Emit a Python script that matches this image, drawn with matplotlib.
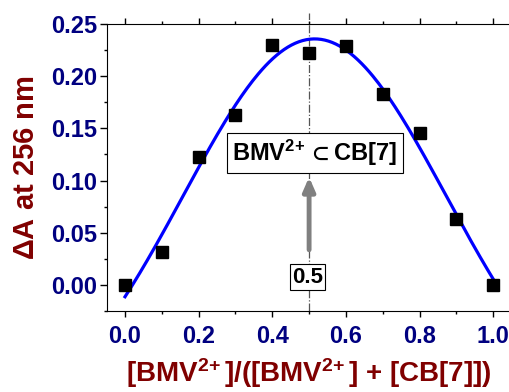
import numpy as np
import matplotlib
matplotlib.use("Agg")
import matplotlib.pyplot as plt

plt.rcParams['font.family'] = ['Liberation Sans', 'DejaVu Sans']
plt.rcParams['font.weight'] = 'bold'
plt.rcParams['mathtext.fontset'] = 'custom'
plt.rcParams['mathtext.rm'] = 'Liberation Sans:bold'
plt.rcParams['mathtext.bf'] = 'Liberation Sans:bold'
plt.rcParams['mathtext.it'] = 'Liberation Sans:bold'
plt.rcParams['mathtext.fallback'] = 'stixsans'

# Job plot data
frac = [0.0, 0.1, 0.2, 0.3, 0.4, 0.5, 0.6, 0.7, 0.8, 0.9, 1.0]
dA = [0.000, 0.032, 0.123, 0.163, 0.230, 0.222, 0.229, 0.183, 0.146, 0.063, 0.000]

navy = '#000080'
dred = '#800000'


def gauss(p, x):
    y0, a, xc, w = p
    return y0 + a * np.exp(-2 * (x - xc) ** 2 / w ** 2)


def fit_gauss(x, y, p):
    # plain Gauss-Newton, numeric jacobian
    x = np.asarray(x); y = np.asarray(y); p = np.array(p, float)
    for _ in range(200):
        r = y - gauss(p, x)
        J = np.empty((len(x), len(p)))
        for k in range(len(p)):
            dp = np.zeros_like(p); dp[k] = 1e-6
            J[:, k] = (gauss(p + dp, x) - gauss(p - dp, x)) / 2e-6
        step = np.linalg.lstsq(J, r, rcond=None)[0]
        p = p + 0.5 * step
    return p


fig = plt.figure(figsize=(5.09, 3.92), dpi=100)
ax = fig.add_axes([106.6 / 509, 81 / 392, 405 / 509, 287 / 392])

pfit = fit_gauss(frac, dA, [0.0, 0.23, 0.5, 0.45])
xs = np.linspace(0, 1, 200)
ax.plot(xs, gauss(pfit, xs), color='#0000ff', lw=2.3, zorder=3)
ax.plot(frac, dA, 's', color='black', ms=8.3, zorder=4)

ax.plot([0.5, 0.5], [-0.025, 0.261], color='#555555', lw=0.9, ls='-.', clip_on=False, zorder=1)
ax.annotate('', xy=(0.5, 0.106), xytext=(0.5, 0.031),
            arrowprops=dict(arrowstyle='-|>,head_width=0.35,head_length=0.8', color='#808080', lw=3.5))

ax.text(0.496, 0.0075, '0.5', ha='center', va='center', fontsize=16, color='black',
        fontweight='bold', bbox=dict(boxstyle='square,pad=0.1', fc='white', ec='black', lw=0.8))
ax.text(0.516, 0.1265, r'BMV$^{2\!+}$$\subset$CB[7]', ha='center', va='center', fontsize=17,
        color='black', fontweight='bold',
        bbox=dict(boxstyle='square,pad=0.22', fc='white', ec='black', lw=0.8))

ax.set_xlim(-0.05, 1.05)
ax.set_ylim(-0.025, 0.25)
ax.set_xticks([0.0, 0.2, 0.4, 0.6, 0.8, 1.0])
ax.set_xticks([0.1, 0.3, 0.5, 0.7, 0.9], minor=True)
ax.set_yticks([0.0, 0.05, 0.1, 0.15, 0.2, 0.25])
ax.set_yticks(np.arange(-0.025, 0.25, 0.05), minor=True)
ax.set_xticklabels(['0.0', '0.2', '0.4', '0.6', '0.8', '1.0'])
ax.set_yticklabels(['0.00', '0.05', '0.10', '0.15', '0.20', '0.25'])
ax.tick_params(which='both', direction='out', top=True, right=False, width=1,
               labelsize=17, labelcolor=navy)
ax.tick_params(axis='y', which='major', length=5, pad=2)
ax.tick_params(axis='x', which='major', length=4, pad=6)
ax.tick_params(which='minor', length=2.5)
for lab in ax.get_xticklabels() + ax.get_yticklabels():
    lab.set_fontweight('bold')
ax.spines['right'].set_visible(False)

ax.set_ylabel(r'$\Delta$A at 256 nm', fontsize=21, color=dred, fontweight='bold', labelpad=8)
ax.set_xlabel(r'[BMV$^{2\!+}$]/([BMV$^{2\!+}$] + [CB[7]])', fontsize=20, color=dred,
              fontweight='bold', labelpad=6)

fig.savefig('out.png', dpi=100)
